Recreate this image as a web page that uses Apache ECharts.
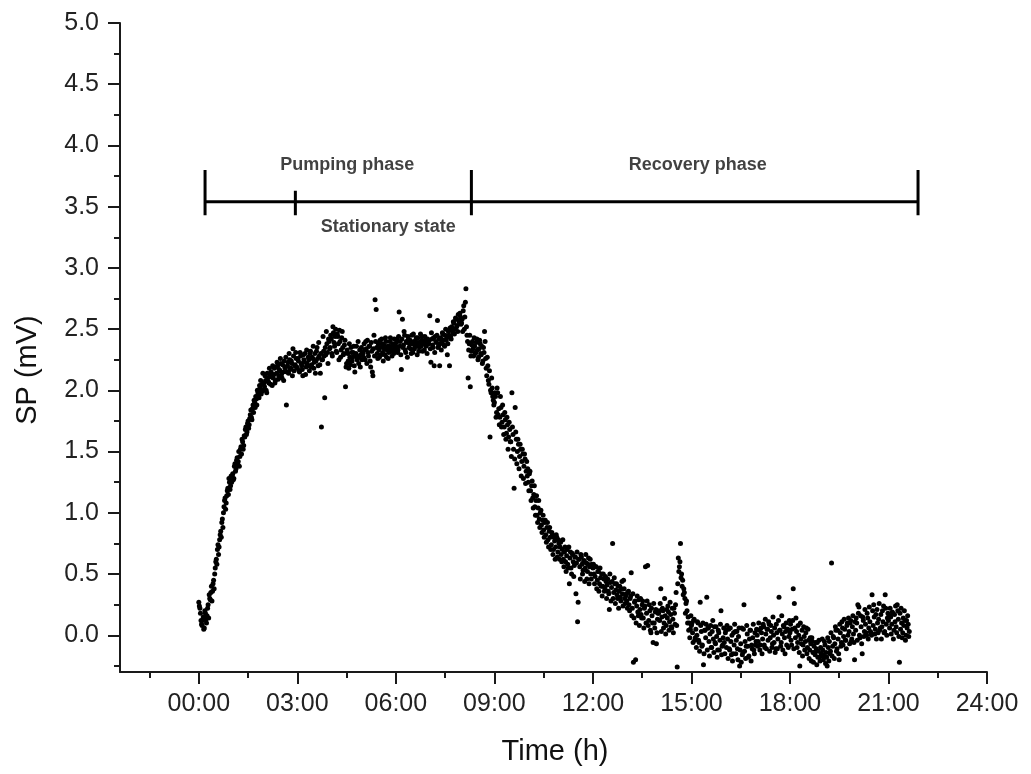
<!DOCTYPE html>
<html>
<head>
<meta charset="utf-8">
<script src="https://cdn.jsdelivr.net/npm/echarts@6/dist/echarts.min.js"></script>
<style>
html,body{margin:0;padding:0;background:#fff;}
#chart{width:1031px;height:774px;}
</style>
</head>
<body>
<div id="chart"></div>
<script>
// SP readings (mV), one array per hour; "sp" = even minutes (0,2,...,58), "sq" = odd minutes (1,3,...,59)
const sp00 = [0.27,0.22,0.12,0.08,0.15,0.06,0.18,0.10,0.22,0.14,0.30,0.35,0.28,0.42,0.38,0.55,0.62,0.70,0.66,0.78,0.85,0.92,0.88,1.05,1.12,1.08,1.18,1.15,1.25,1.22];
const sp01 = [1.25,1.32,1.28,1.40,1.36,1.45,1.42,1.38,1.52,1.48,1.58,1.55,1.62,1.70,1.66,1.75,1.72,1.80,1.78,1.85,1.82,1.90,1.95,1.88,1.98,1.94,2.02,1.97,2.05,2.00];
const sp02 = [2.03,2.08,1.98,2.10,2.06,2.12,2.15,2.04,2.10,2.18,2.08,2.14,2.20,2.12,2.16,2.22,2.10,2.15,2.24,2.18,1.88,2.20,2.14,2.25,2.18,2.22,2.34,2.16,2.21,2.26];
const sp03 = [2.18,2.24,2.15,2.28,2.20,2.12,2.25,2.30,2.19,2.22,2.27,2.16,2.32,2.21,2.26,2.18,2.30,2.24,2.35,2.20,2.28,2.14,1.70,2.25,2.32,1.94,2.29,2.38,2.22,2.40];
const sp04 = [2.35,2.42,2.28,2.47,2.36,2.50,2.31,2.44,2.25,2.40,2.33,2.48,2.29,2.37,2.03,2.22,2.30,2.18,2.27,2.35,2.24,2.31,2.20,2.28,2.36,2.26,2.22,2.33,2.29,2.25];
const sp05 = [2.30,2.38,2.25,2.34,2.41,2.28,2.36,2.19,2.32,2.12,2.45,2.74,2.66,2.30,2.38,2.27,2.35,2.42,2.31,2.37,2.29,2.40,2.33,2.26,2.36,2.43,2.32,2.38,2.30,2.35];
const sp06 = [2.36,2.42,2.33,2.64,2.40,2.17,2.58,2.37,2.45,2.31,2.39,2.44,2.35,2.41,2.30,2.38,2.46,2.34,2.40,2.37,2.43,2.32,2.39,2.36,2.44,2.38,2.33,2.41,2.37,2.42];
const sp07 = [2.38,2.61,2.23,2.42,2.35,2.20,2.44,2.39,2.57,2.36,2.20,2.43,2.40,2.46,2.37,2.45,2.41,2.29,2.48,2.20,2.44,2.52,2.47,2.55,2.50,2.58,2.53,2.62,2.56,2.60];
const sp08 = [2.55,2.48,2.69,2.60,2.83,2.45,2.10,2.38,2.03,2.32,2.40,2.28,2.36,2.31,2.42,2.25,2.34,2.38,2.29,2.22,2.35,2.48,2.26,2.12,2.20,2.05,1.62,1.98,2.02,1.92];
const sp09 = [1.90,1.95,1.82,1.98,1.85,1.78,1.86,1.74,1.80,1.70,1.76,1.65,1.72,1.62,1.68,1.58,1.98,1.64,1.20,1.86,1.60,1.50,1.56,1.46,1.52,1.42,1.48,1.38,1.44,1.34];
const sp10 = [1.30,1.25,1.32,1.18,1.22,1.12,1.15,1.05,1.10,0.98,1.04,0.95,1.00,0.90,0.94,0.86,0.92,0.82,0.88,0.78,0.85,0.80,0.74,0.82,0.70,0.77,0.72,0.80,0.68,0.75];
const sp11 = [0.72,0.66,0.70,0.62,0.68,0.60,0.65,0.58,0.72,0.63,0.55,0.67,0.60,0.57,0.64,0.59,0.11,0.62,0.56,0.66,0.58,0.53,0.61,0.55,0.59,0.52,0.63,0.56,0.50,0.58];
const sp12 = [0.55,0.50,0.48,0.56,0.45,0.52,0.42,0.47,0.50,0.40,0.46,0.38,0.44,0.41,0.36,0.21,0.43,0.39,0.75,0.35,0.42,0.37,0.33,0.40,0.36,0.31,0.38,0.34,0.45,0.30];
const sp13 = [0.32,0.28,0.35,0.25,0.30,0.51,0.22,-0.22,0.27,-0.20,0.24,0.19,0.29,0.21,0.17,0.25,0.14,0.22,0.56,0.18,0.57,0.12,0.20,0.02,0.16,-0.06,0.10,0.19,-0.07,0.13];
const sp14 = [0.18,0.12,0.38,0.15,0.20,0.10,0.16,0.08,0.14,0.19,0.11,0.17,0.06,0.13,0.22,0.09,0.35,-0.26,0.63,0.56,0.75,0.50,0.45,0.38,0.30,0.26,0.20,0.15,0.10,0.05];
const sp15 = [0.08,0.02,0.12,-0.04,0.05,0.00,0.10,-0.06,0.27,0.03,-0.08,-0.24,0.04,-0.02,0.31,0.06,-0.05,0.01,-0.10,0.03,-0.03,0.07,-0.07,-0.01,-0.12,0.02,-0.04,0.20,-0.09,-0.02];
const sp16 = [-0.06,0.02,-0.10,-0.03,0.05,-0.12,-0.05,0.00,-0.15,-0.08,0.03,-0.04,-0.11,-0.01,-0.25,-0.07,0.06,-0.14,0.25,-0.05,-0.09,0.01,-0.18,-0.03,0.04,-0.08,-0.02,-0.12,0.02,-0.05];
const sp17 = [0.00,-0.05,0.04,-0.08,0.02,-0.03,0.07,-0.10,0.01,0.05,-0.04,0.09,-0.02,0.03,-0.07,0.00,0.06,-0.11,0.02,-0.03,0.31,0.04,-0.06,0.01,0.08,-0.02,0.03,-0.08,0.05,-0.01];
const sp18 = [0.02,-0.04,0.05,0.38,0.26,-0.02,0.03,-0.06,0.00,-0.25,-0.03,0.04,-0.08,-0.01,-0.05,0.06,-0.10,-0.04,-0.12,-0.07,-0.02,-0.14,-0.09,-0.16,-0.11,-0.06,-0.13,-0.18,-0.10,-0.15];
const sp19 = [-0.12,-0.17,-0.08,-0.14,-0.25,-0.10,-0.05,-0.13,0.59,-0.09,-0.02,-0.07,0.04,-0.11,-0.03,-0.20,0.02,-0.06,0.06,-0.01,0.05,-0.04,0.08,0.00,0.03,0.10,-0.05,0.07,0.01,-0.20];
const sp20 = [0.04,0.10,0.25,0.23,-0.02,0.07,-0.15,0.12,0.03,0.09,0.00,0.14,0.06,0.11,0.02,0.33,0.08,0.15,0.05,-0.03,0.10,0.13,0.04,0.17,0.07,0.11,0.02,0.33,0.09,0.14];
const sp21 = [0.12,0.06,0.15,0.09,0.18,0.04,0.11,0.07,0.25,0.13,-0.22,0.05,0.10,0.02,0.08,0.12,0.00,0.06,0.09,0.03];

const sq00 = [0.24,0.18,0.09,0.12,0.05,0.20,0.13,0.16,0.25,0.33,0.29,0.40,0.36,0.45,0.50,0.60,0.58,0.74,0.72,0.82,0.80,0.95,1.00,1.10,1.03,1.14,1.20,1.28,1.19,1.30];
const sq01 = [1.30,1.27,1.38,1.34,1.43,1.40,1.50,1.46,1.54,1.60,1.52,1.63,1.68,1.64,1.73,1.69,1.77,1.84,1.76,1.88,1.92,1.86,1.93,2.00,1.96,2.04,2.08,1.99,2.14,2.06];
const sq02 = [2.12,2.00,2.14,2.07,2.18,2.05,2.11,2.20,2.13,2.06,2.19,2.23,2.09,2.17,2.26,2.13,2.21,2.08,2.19,2.27,2.15,2.23,2.30,2.17,2.24,2.12,2.28,2.20,2.31,2.19];
const sq03 = [2.26,2.16,2.31,2.22,2.17,2.29,2.23,2.13,2.33,2.20,2.25,2.30,2.19,2.27,2.36,2.23,2.14,2.32,2.26,2.39,2.21,2.30,2.25,2.44,2.28,2.35,2.48,2.31,2.42,2.34];
const sq04 = [2.45,2.30,2.52,2.39,2.44,2.32,2.46,2.38,2.49,2.27,2.43,2.35,2.30,2.41,2.19,2.33,2.24,2.38,2.21,2.31,2.27,2.36,2.15,2.30,2.25,2.40,2.28,2.19,2.35,2.31];
const sq05 = [2.27,2.33,2.40,2.22,2.31,2.36,2.24,2.39,2.15,2.34,2.28,2.40,2.35,2.26,2.33,2.41,2.29,2.38,2.24,2.34,2.43,2.27,2.36,2.31,2.40,2.34,2.28,2.37,2.42,2.33];
const sq06 = [2.39,2.31,2.44,2.36,2.29,2.42,2.35,2.48,2.33,2.40,2.27,2.42,2.38,2.34,2.45,2.31,2.40,2.36,2.43,2.29,2.39,2.35,2.46,2.41,2.32,2.40,2.44,2.36,2.30,2.39];
const sq07 = [2.41,2.34,2.47,2.37,2.43,2.31,2.40,2.45,2.35,2.42,2.38,2.33,2.47,2.41,2.36,2.50,2.43,2.38,2.45,2.51,2.42,2.49,2.56,2.46,2.59,2.52,2.48,2.57,2.63,2.54];
const sq08 = [2.58,2.65,2.50,2.72,2.52,2.40,2.33,2.45,2.28,2.37,2.34,2.43,2.30,2.39,2.33,2.27,2.41,2.30,2.36,2.24,2.31,2.40,2.18,2.27,2.08,2.16,2.00,2.10,1.95,1.88];
const sq09 = [1.98,1.78,2.02,1.80,1.72,1.95,1.70,1.88,1.64,1.82,1.60,1.78,1.52,1.74,1.58,1.46,1.70,1.52,1.44,1.66,1.40,1.60,1.36,1.56,1.30,1.52,1.28,1.48,1.24,1.42];
const sq10 = [1.36,1.18,1.34,1.10,1.26,1.04,1.22,0.98,1.14,0.92,1.10,0.88,1.02,0.84,0.98,0.80,0.94,0.76,0.92,0.72,0.88,0.70,0.84,0.66,0.80,0.62,0.82,0.64,0.78,0.62];
const sq11 = [0.76,0.60,0.78,0.56,0.72,0.52,0.70,0.55,0.42,0.68,0.50,0.66,0.48,0.64,0.34,0.68,0.27,0.62,0.46,0.64,0.50,0.60,0.44,0.66,0.46,0.58,0.42,0.62,0.46,0.56];
const sq12 = [0.58,0.42,0.56,0.38,0.52,0.36,0.55,0.40,0.32,0.50,0.36,0.48,0.30,0.46,0.34,0.50,0.28,0.44,0.30,0.47,0.26,0.42,0.30,0.22,0.40,0.28,0.44,0.24,0.38,0.26];
const sq13 = [0.34,0.22,0.36,0.20,0.32,0.16,0.34,0.14,0.28,0.10,0.32,0.16,0.08,0.30,0.14,0.28,0.06,0.24,0.10,0.28,0.08,0.25,0.04,0.22,0.10,0.26,0.06,0.21,0.02,0.18];
const sq14 = [0.20,0.26,0.03,0.22,0.06,0.30,0.01,0.21,0.24,0.04,0.27,0.07,0.22,0.02,0.18,0.25,0.08,0.42,0.52,0.60,0.47,0.40,0.33,0.35,0.18,0.28,0.10,0.04,-0.02,0.16];
const sq15 = [0.10,-0.06,0.13,-0.02,-0.10,0.11,-0.04,-0.13,0.08,-0.09,0.10,-0.15,0.04,0.09,-0.12,0.06,-0.17,0.08,-0.10,0.12,-0.14,-0.06,0.07,-0.18,0.04,-0.12,0.09,-0.16,-0.08,0.06];
const sq16 = [-0.15,0.04,0.08,-0.19,-0.11,0.06,-0.16,-0.21,0.02,0.09,-0.15,0.03,-0.20,0.06,-0.12,-0.22,-0.16,0.05,-0.13,-0.19,0.08,-0.09,-0.17,0.04,-0.21,-0.11,0.09,-0.15,-0.08,0.05];
const sq17 = [-0.09,0.10,-0.12,0.06,-0.15,0.09,-0.08,0.13,-0.11,0.05,0.11,-0.13,0.08,-0.10,0.15,-0.06,-0.14,0.09,-0.11,0.12,0.04,-0.09,0.16,-0.12,0.07,-0.15,0.10,0.05,-0.10,0.12];
const sq18 = [0.09,-0.08,0.12,-0.11,0.06,0.14,-0.10,0.08,-0.14,0.10,-0.07,-0.17,0.07,-0.12,0.02,-0.15,0.05,-0.19,-0.02,-0.21,-0.05,-0.22,-0.14,-0.06,-0.24,-0.18,-0.04,-0.21,-0.16,-0.03];
const sq19 = [-0.20,-0.05,-0.23,-0.18,-0.02,-0.21,-0.15,0.02,-0.17,-0.01,-0.19,0.07,-0.13,0.04,-0.15,0.09,-0.09,0.11,-0.08,0.13,-0.04,-0.11,0.10,0.14,-0.07,0.12,-0.03,0.16,-0.06,0.11];
const sq20 = [0.14,-0.04,0.18,0.00,0.16,-0.07,0.15,-0.01,0.21,0.02,0.18,-0.03,0.23,0.03,0.00,0.20,0.25,0.01,0.17,0.21,0.02,0.26,0.06,-0.03,0.20,0.24,0.03,0.22,0.00,0.18];
const sq21 = [0.16,0.22,0.01,0.19,-0.03,0.17,0.24,0.02,0.20,-0.01,0.18,0.22,-0.02,0.14,0.20,-0.04,0.12,0.16,-0.01];

const evenMinuteSP = [sp00,sp01,sp02,sp03,sp04,sp05,sp06,sp07,sp08,sp09,sp10,sp11,sp12,sp13,sp14,sp15,sp16,sp17,sp18,sp19,sp20,sp21];
const oddMinuteSP  = [sq00,sq01,sq02,sq03,sq04,sq05,sq06,sq07,sq08,sq09,sq10,sq11,sq12,sq13,sq14,sq15,sq16,sq17,sq18,sq19,sq20,sq21];

// Axis ticks
const xTickHours = [0,3,6,9,12,15,18,21,24];
const xMinorHours = [-1.5,1.5,4.5,7.5,10.5,13.5,16.5,19.5,22.5];
const yTickValues = [0,0.5,1,1.5,2,2.5,3,3.5,4,4.5,5];
const yMinorValues = [-0.25,0.25,0.75,1.25,1.75,2.25,2.75,3.25,3.75,4.25,4.75];

// Phase annotation (hours, mV)
const phaseBarLevel = 3.54;
const phaseBarSpan = [0.19, 21.9];
const phaseMarkers = [[0.19,3.43,3.80],[2.94,3.43,3.63],[8.30,3.43,3.80],[21.9,3.43,3.80]];
const phaseTexts = [[4.52,3.84,'Pumping phase'],[5.77,3.33,'Stationary state'],[15.19,3.84,'Recovery phase']];

const points = [];
evenMinuteSP.forEach((arr, h) => arr.forEach((v, i) => points.push([h + (2 * i) / 60, v])));
oddMinuteSP.forEach((arr, h) => arr.forEach((v, i) => points.push([h + (2 * i + 1) / 60, v])));

const FONT = '"Liberation Sans", Arial, sans-serif';
const INK = '#1a1a1a';
const xMin = -2.4, xMax = 24, yMin = -0.3, yMax = 5.0;

const series = [{
  type: 'scatter', data: points, symbol: 'circle', symbolSize: 5,
  itemStyle: { color: '#000', opacity: 1 }, silent: true, xAxisIndex: 0, yAxisIndex: 0
}];
const lineStyle = { color: '#000', width: 3 };
series.push({
  type: 'line', data: [[phaseBarSpan[0], phaseBarLevel],[phaseBarSpan[1], phaseBarLevel]],
  symbol: 'none', lineStyle, silent: true
});
phaseMarkers.forEach(m => series.push({
  type: 'line', data: [[m[0], m[1]],[m[0], m[2]]], symbol: 'none', lineStyle, silent: true
}));
series.push({
  type: 'scatter', data: phaseTexts, symbolSize: 0, silent: true,
  label: { show: true, position: 'inside', formatter: p => p.data[2],
    fontFamily: FONT, fontWeight: 'bold', fontSize: 18, color: '#111' }
});

const chart = echarts.init(document.getElementById('chart'), null, { renderer: 'canvas' });
chart.setOption({
  animation: false,
  backgroundColor: '#fff',
  grid: { left: 120, right: 44, top: 23, bottom: 102 },
  xAxis: [{
    type: 'value', min: xMin, max: xMax, position: 'bottom',
    axisLine: { show: true, onZero: false, lineStyle: { color: INK, width: 2 } },
    axisTick: { show: true, customValues: xTickHours, length: 12, lineStyle: { color: INK, width: 2 } },
    axisLabel: { customValues: xTickHours, margin: 20, fontFamily: FONT, fontSize: 25, color: '#222',
      formatter: v => String(v).padStart(2, '0') + ':00' },
    splitLine: { show: false }
  }, {
    type: 'value', min: xMin, max: xMax, position: 'bottom',
    axisLine: { show: false, onZero: false },
    axisTick: { show: true, customValues: xMinorHours, length: 6, lineStyle: { color: INK, width: 2 } },
    axisLabel: { show: false }, splitLine: { show: false }
  }],
  yAxis: [{
    type: 'value', min: yMin, max: yMax, position: 'left',
    axisLine: { show: true, onZero: false, lineStyle: { color: INK, width: 2 } },
    axisTick: { show: true, customValues: yTickValues, length: 12, lineStyle: { color: INK, width: 2 } },
    axisLabel: { customValues: yTickValues, margin: 21, fontFamily: FONT, fontSize: 25, color: '#222',
      formatter: v => v.toFixed(1) },
    splitLine: { show: false }
  }, {
    type: 'value', min: yMin, max: yMax, position: 'left',
    axisLine: { show: false, onZero: false },
    axisTick: { show: true, customValues: yMinorValues, length: 6, lineStyle: { color: INK, width: 2 } },
    axisLabel: { show: false }, splitLine: { show: false }
  }],
  graphic: [{
    type: 'text', x: 555, y: 752,
    style: { text: 'Time (h)', fontFamily: FONT, fontSize: 29, fill: '#111', align: 'center', verticalAlign: 'middle' }
  }, {
    type: 'text', x: 28, y: 370, rotation: Math.PI / 2,
    style: { text: 'SP (mV)', fontFamily: FONT, fontSize: 29, fill: '#111', align: 'center', verticalAlign: 'middle' }
  }],
  series
});
</script>
</body>
</html>
